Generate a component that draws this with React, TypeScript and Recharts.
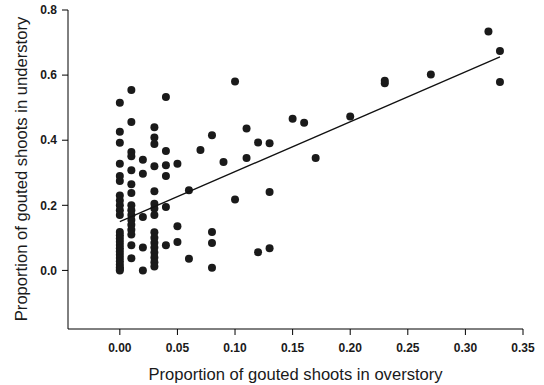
import React from 'react';
import { ScatterChart, Scatter, XAxis, YAxis, Label } from 'recharts';

const overstory = [
  0, 0, 0, 0, 0, 0, 0, 0, 0, 0, 0, 0, 0, 0, 0, 0, 0, 0, 0, 0, 0, 0, 0, 0, 0,
  0.01, 0.01, 0.01, 0.01, 0.01, 0.01, 0.01, 0.01, 0.01, 0.01, 0.01, 0.01, 0.01, 0.01, 0.01, 0.01,
  0.02, 0.02, 0.02, 0.02, 0.02,
  0.03, 0.03, 0.03, 0.03, 0.03, 0.03, 0.03, 0.03, 0.03, 0.03, 0.03, 0.03, 0.03, 0.03, 0.03, 0.03,
  0.04, 0.04, 0.04, 0.04, 0.04, 0.04,
  0.05, 0.05, 0.05,
  0.06, 0.06,
  0.07,
  0.08, 0.08, 0.08, 0.08,
  0.09,
  0.1, 0.1,
  0.11, 0.11,
  0.12, 0.12,
  0.13, 0.13, 0.13,
  0.15, 0.16, 0.17, 0.2,
  0.23, 0.23,
  0.27, 0.32, 0.33, 0.33,
];

const understory = [
  0.515, 0.426, 0.392, 0.328, 0.29, 0.275, 0.23, 0.215, 0.2, 0.185, 0.17, 0.118, 0.108, 0.098, 0.088, 0.078, 0.068, 0.058, 0.048, 0.038, 0.028, 0.018, 0.01, 0.004, 0.0,
  0.554, 0.456, 0.364, 0.351, 0.308, 0.265, 0.238, 0.2, 0.185, 0.17, 0.155, 0.14, 0.125, 0.11, 0.077, 0.037,
  0.34, 0.297, 0.164, 0.07, 0.0,
  0.44, 0.408, 0.388, 0.32, 0.243, 0.205, 0.19, 0.17, 0.117, 0.1, 0.085, 0.07, 0.055, 0.04, 0.025, 0.012,
  0.533, 0.367, 0.323, 0.29, 0.195, 0.077,
  0.328, 0.136, 0.087,
  0.246, 0.036,
  0.37,
  0.415, 0.118, 0.084, 0.008,
  0.333,
  0.58, 0.218,
  0.436, 0.345,
  0.393, 0.056,
  0.391, 0.241, 0.068,
  0.466, 0.454, 0.345, 0.473,
  0.575, 0.583,
  0.602, 0.734, 0.674, 0.579,
];

const fitX = [0.0, 0.33];
const fitY = [0.15, 0.656];

const xTicks = [0, 0.05, 0.1, 0.15, 0.2, 0.25, 0.3, 0.35];
const yTicks = [0, 0.2, 0.4, 0.6, 0.8];

const points = overstory.map((x, i) => ({ x, y: understory[i] }));
const fitLine = fitX.map((x, i) => ({ x, y: fitY[i] }));

const FONT = '"Liberation Sans", Arial, sans-serif';
const tickStyle = { fill: '#1a1a1a', fontSize: 12, fontWeight: 'bold', fontFamily: FONT };
const titleStyle = { fontSize: 16.6, fontFamily: FONT, fill: '#1a1a1a' };

const Dot = (props: any) => <circle cx={props.cx} cy={props.cy} r={4} fill="#1a1a1a" />;
const NoDot = () => <g />;

export default function App() {
  return (
    <div style={{ position: 'absolute', left: 0, top: 0, background: '#fff' }}>
      <ScatterChart width={544} height={385} margin={{ top: 10, right: 21, left: 0, bottom: 0 }}>
        <XAxis
          type="number"
          dataKey="x"
          domain={[-0.045, 0.35]}
          allowDataOverflow
          ticks={xTicks}
          tickFormatter={(v: number) => v.toFixed(2)}
          height={56}
          tickSize={6}
          tickMargin={8}
          axisLine={{ stroke: '#000', strokeWidth: 1 }}
          tickLine={{ stroke: '#000', strokeWidth: 1 }}
          tick={tickStyle}
        >
          <Label
            value="Proportion of gouted shoots in overstory"
            position="insideBottom"
            offset={5}
            style={titleStyle}
          />
        </XAxis>
        <YAxis
          type="number"
          dataKey="y"
          domain={[-0.18, 0.8]}
          allowDataOverflow
          ticks={yTicks}
          tickFormatter={(v: number) => v.toFixed(1)}
          width={68}
          tickSize={6}
          tickMargin={5}
          axisLine={{ stroke: '#000', strokeWidth: 1 }}
          tickLine={{ stroke: '#000', strokeWidth: 1 }}
          tick={tickStyle}
        >
          <Label
            content={() => (
              <text
                x={21}
                y={169}
                transform="rotate(-90 21 169)"
                textAnchor="middle"
                dominantBaseline="central"
                style={titleStyle}
              >
                Proportion of gouted shoots in understory
              </text>
            )}
          />
        </YAxis>
        <Scatter data={points} shape={Dot} isAnimationActive={false} />
        <Scatter
          data={fitLine}
          line={{ stroke: '#111', strokeWidth: 1.3 }}
          shape={NoDot}
          isAnimationActive={false}
        />
      </ScatterChart>
    </div>
  );
}
